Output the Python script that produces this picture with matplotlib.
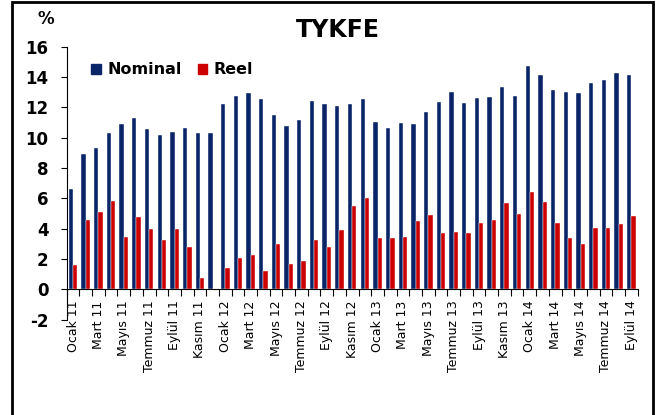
import matplotlib
matplotlib.use("Agg")
import matplotlib.pyplot as plt
import numpy as np
from matplotlib.patches import Rectangle, Patch

months = ["Ocak", "Şubat", "Mart", "Nisan", "Mayıs", "Haziran",
          "Temmuz", "Ağustos", "Eylül", "Ekim", "Kasım", "Aralık"]
years = ["11", "12", "13", "14"]
categories = [f"{m} {y}" for y in years for m in months][:45]

nominal = [6.6, 8.9, 9.3, 10.3, 10.9, 11.3, 10.55, 10.15, 10.4, 10.65, 10.3, 10.3,
           12.25, 12.77, 12.93, 12.53, 11.5, 10.75, 11.17, 12.42, 12.2, 12.09, 12.2, 12.53,
           11.0, 10.66, 10.99, 10.9, 11.67, 12.33, 13.01, 12.27, 12.6, 12.66, 13.34, 12.77,
           14.71, 14.11, 13.17, 13.01, 12.93, 13.6, 13.78, 14.29, 14.11]
reel = [1.6, 4.57, 5.08, 5.82, 3.47, 4.75, 3.98, 3.23, 3.98, 2.79, 0.77, 0.0,
        1.43, 2.04, 2.26, 1.21, 2.97, 1.69, 1.87, 3.23, 2.79, 3.89, 5.52, 6.0,
        3.38, 3.38, 3.45, 4.48, 4.9, 3.71, 3.8, 3.71, 4.39, 4.55, 5.67, 4.99,
        6.42, 5.74, 4.39, 3.38, 2.97, 4.04, 4.04, 4.31, 4.81]
yticks = [-2, 0, 2, 4, 6, 8, 10, 12, 14, 16]

BLUE = "#0A2567"
RED = "#CC0000"

fig = plt.figure(figsize=(6.57, 4.15), dpi=100)
ax = fig.add_axes([0.1015, 0.2299, 0.9706 - 0.1015, 0.8875 - 0.2299])

x = np.arange(len(categories))
w = 0.34
ax.bar(x - w / 2, nominal, width=w, color=BLUE, edgecolor="white", linewidth=0.3, label="Nominal")
ax.bar(x + w / 2, reel, width=w, color=RED, edgecolor="white", linewidth=0.3, label="Reel")

ax.set_xlim(-0.5, len(categories) - 0.5)
ax.set_ylim(-2, 16)
ax.set_yticks(yticks)
ax.set_yticklabels([str(t) for t in yticks], fontsize=12, fontweight="bold")
ax.tick_params(axis="y", direction="out", length=4, width=0.8, pad=9)

ax.spines["top"].set_visible(False)
ax.spines["right"].set_visible(False)
ax.spines["bottom"].set_position(("data", 0))
ax.spines["left"].set_linewidth(0.8)
ax.spines["bottom"].set_linewidth(0.8)

# category boundary ticks
ax.set_xticks(np.arange(-0.5, len(categories), 1.0))
ax.set_xticklabels([])
ax.tick_params(axis="x", which="major", direction="out", length=5, width=0.8)
lab_idx = list(range(0, len(categories), 2))
ax.set_xticks(lab_idx, minor=True)
ax.set_xticklabels([categories[i] for i in lab_idx], minor=True, rotation=90, fontsize=9)
ax.tick_params(axis="x", which="minor", length=0, pad=8)

fig.text(0.514, 0.927, "TYKFE", ha="center", va="center", fontsize=17, fontweight="bold")
fig.text(0.069, 0.955, "%", ha="center", va="center", fontsize=12, fontweight="bold")

handles = [Patch(color=BLUE, label="Nominal"), Patch(color=RED, label="Reel")]
fig.legend(handles=handles, loc="center left", bbox_to_anchor=(0.117, 0.832), ncol=2,
           frameon=False, prop={"weight": "bold", "size": 11.5}, handlelength=0.6,
           handleheight=0.6, handletextpad=0.4, columnspacing=1.0)

fig.patches.append(Rectangle((11.5 / 657, -0.05), (653 - 11.5) / 657, 1.05 - 2 / 415,
                             transform=fig.transFigure, fill=False, edgecolor="black",
                             linewidth=2, figure=fig))

fig.savefig("out.png", dpi=100)
